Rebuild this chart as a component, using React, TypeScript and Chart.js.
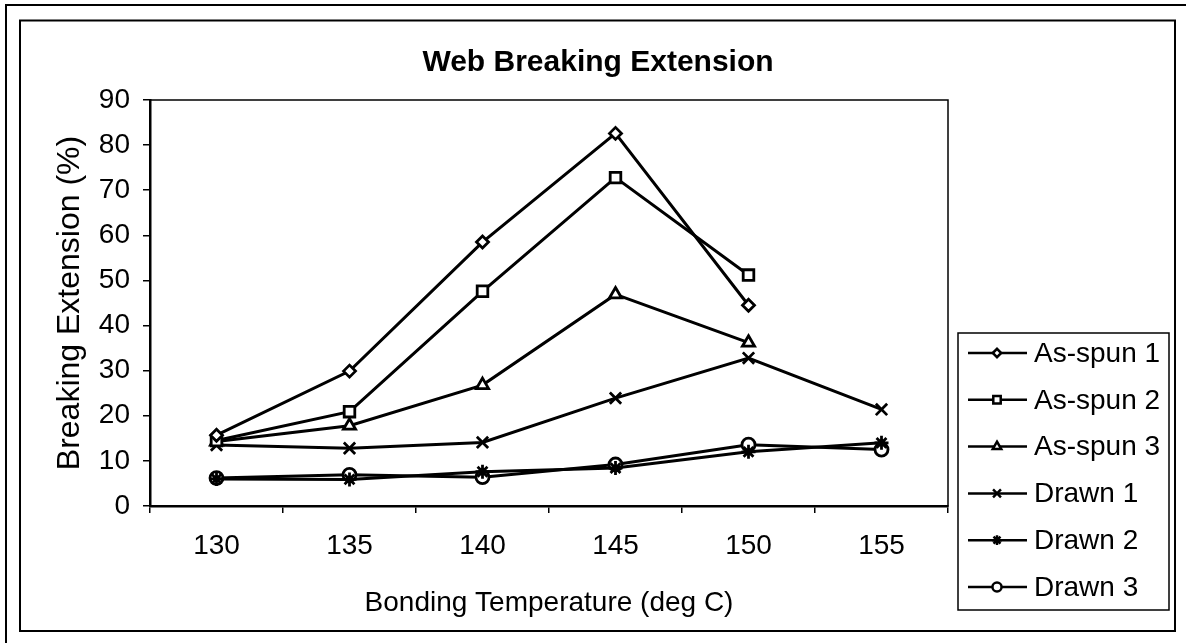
import React, { useEffect, useRef } from 'react';
import { Chart, registerables } from 'chart.js';
import { drawPoint } from 'chart.js/helpers';

Chart.register(...registerables);

const FONT = 'Liberation Sans, Arial, sans-serif';

const categories = ['130', '135', '140', '145', '150', '155'];
const yTicks = [0, 10, 20, 30, 40, 50, 60, 70, 80, 90];

const asSpun1 = [15.7, 29.9, 58.5, 82.6, 44.5, null];
const asSpun2 = [14.5, 20.9, 47.6, 72.8, 51.2, null];
const asSpun3 = [14.3, 17.8, 26.8, 46.9, 36.2, null];
const drawn1 = [13.5, 12.8, 14.1, 23.9, 32.8, 21.4];
const drawn2 = [6.0, 5.9, 7.6, 8.4, 12.0, 14.0];
const drawn3 = [6.2, 6.9, 6.4, 9.2, 13.6, 12.5];

const seriesNames = ['As-spun 1', 'As-spun 2', 'As-spun 3', 'Drawn 1', 'Drawn 2', 'Drawn 3'];
const seriesValues = [asSpun1, asSpun2, asSpun3, drawn1, drawn2, drawn3];
const seriesMarkers = ['rectRot', 'rect', 'triangle', 'crossRot', 'star', 'circle'];
const markerSizes = [6, 7.5, 7, 8, 7, 6.5];

const chartTitle = 'Web Breaking Extension';
const xTitle = 'Bonding Temperature (deg C)';
const yTitle = 'Breaking Extension (%)';

const framePlugin = {
  id: 'frame',
  beforeDraw(chart: any) {
    const { ctx, width, height } = chart;
    ctx.save();
    ctx.fillStyle = '#fff';
    ctx.fillRect(0, 0, width, height);
    ctx.restore();
  },
  afterDraw(chart: any) {
    const { ctx, chartArea } = chart;
    ctx.save();
    ctx.strokeStyle = '#000';
    ctx.lineWidth = 2;
    ctx.beginPath();
    ctx.moveTo(6, 643);
    ctx.lineTo(6, 5);
    ctx.lineTo(1186, 5);
    ctx.stroke();
    ctx.lineWidth = 2;
    ctx.strokeRect(20, 20.5, 1155, 610.5);
    ctx.lineWidth = 1.5;
    ctx.strokeRect(chartArea.left, chartArea.top, chartArea.right - chartArea.left, chartArea.bottom - chartArea.top);
    ctx.fillStyle = '#000';
    ctx.font = `bold 30px ${FONT}`;
    ctx.textAlign = 'center';
    ctx.textBaseline = 'middle';
    ctx.fillText(chartTitle, 598, 63);
    const lx = 958, ly = 333, lw = 211, lh = 277;
    ctx.lineWidth = 1.5;
    ctx.strokeRect(lx, ly, lw, lh);
    ctx.font = `28px ${FONT}`;
    ctx.textAlign = 'left';
    chart.data.datasets.forEach((ds: any, i: number) => {
      const y = 353 + i * 46.8;
      ctx.strokeStyle = '#000';
      ctx.lineWidth = 2.5;
      ctx.beginPath();
      ctx.moveTo(968, y);
      ctx.lineTo(1027, y);
      ctx.stroke();
      ctx.fillStyle = '#fff';
      drawPoint(ctx, { pointStyle: ds.pointStyle, radius: ds.pointRadius * 0.7, borderWidth: 2, rotation: 0 }, 997, y);
      ctx.fillStyle = '#000';
      ctx.fillText(ds.label, 1034, y + 1);
    });
    ctx.restore();
  },
};

export default function App() {
  const ref = useRef<HTMLCanvasElement | null>(null);
  useEffect(() => {
    if (!ref.current) return;
    const chart = new Chart(ref.current, {
      type: 'line',
      data: {
        labels: categories,
        datasets: seriesNames.map((name, i) => ({
          label: name,
          data: seriesValues[i],
          borderColor: '#000',
          backgroundColor: '#fff',
          borderWidth: 3,
          pointStyle: seriesMarkers[i] as any,
          pointRadius: markerSizes[i],
          pointBorderWidth: 2.8,
          pointBackgroundColor: '#fff',
          pointBorderColor: '#000',
          tension: 0,
          fill: false,
        })),
      },
      options: {
        animation: false,
        responsive: false,
        maintainAspectRatio: false,
        layout: { padding: { left: 20, right: 238, top: 100, bottom: 12 } },
        plugins: { legend: { display: false }, title: { display: false }, tooltip: { enabled: false } },
        scales: {
          x: {
            type: 'category',
            offset: true,
            grid: { offset: true, drawOnChartArea: false, tickLength: 7, color: '#000', lineWidth: 1.5 },
            border: { display: true, color: '#000', width: 2.5 },
            ticks: { color: '#000', font: { family: FONT, size: 28 }, padding: 16, maxRotation: 0, autoSkip: false },
            title: { display: true, text: xTitle, color: '#000', font: { family: FONT, size: 28 }, padding: { top: 0, bottom: 11 } },
            afterFit(scale: any) { scale.height = 125; },
          },
          y: {
            min: 0,
            max: 90,
            afterBuildTicks(scale: any) { scale.ticks = yTicks.map((v) => ({ value: v })); },
            grid: { drawOnChartArea: false, tickLength: 7, color: '#000', lineWidth: 1.5 },
            border: { display: true, color: '#000', width: 2.5 },
            ticks: { color: '#000', font: { family: FONT, size: 28 }, padding: 13 },
            title: { display: true, text: yTitle, color: '#000', font: { family: FONT, size: 32 }, padding: { top: 31, bottom: 0 } },
            afterFit(scale: any) { scale.width = 130; },
          },
        },
      },
      plugins: [framePlugin],
    });
    return () => chart.destroy();
  }, []);
  return (
    <div style={{ position: 'fixed', left: 0, top: 0, width: 1186, height: 643, background: '#fff' }}>
      <canvas ref={ref} width={1186} height={643} style={{ display: 'block', width: 1186, height: 643 }} />
    </div>
  );
}
